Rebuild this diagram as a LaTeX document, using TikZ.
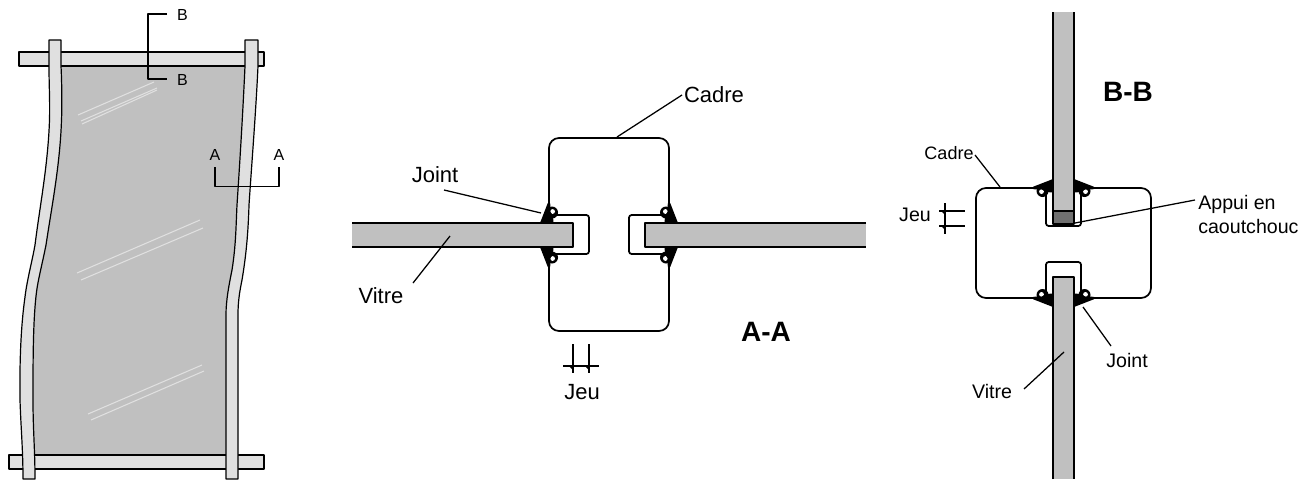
\documentclass[tikz,border=0pt]{standalone}
\usepackage{fontspec}
\setmainfont{Liberation Sans}
\definecolor{glass}{HTML}{C0C0C0}
\definecolor{strip}{HTML}{E0E0E0}
\definecolor{rubber}{HTML}{707070}
\newcommand\gasket[6]{\begin{scope}[shift={(#1,#2)},x={(#3*0.75pt,#4*-0.75pt)},y={(#5*0.75pt,#6*-0.75pt)}]
\fill[black] (3,-10.5) circle[radius=6];
\fill[white] (3.6,-11.5) circle[radius=2.4];
\fill[black] (-1.2,-20) -- (1.2,-20) -- (1.5,-11) -- (4,-7) -- (4.5,0) -- (-9,0) -- cycle;
\end{scope}}
\tikzset{
 lab/.style={font=\fontsize{16.5}{20}\selectfont,inner sep=0pt},
 labb/.style={font=\fontsize{14.7}{17.5}\selectfont,inner sep=0pt},
 labc/.style={font=\fontsize{13.5}{16}\selectfont,inner sep=0pt},
 small/.style={font=\fontsize{12}{14}\selectfont,inner sep=0pt},
 big/.style={font=\fontsize{21}{25}\selectfont\bfseries,inner sep=0pt},
 thin line/.style={line width=0.85pt,line join=round},
 sec/.style={line width=1.3pt,line join=round},
 pane/.style={draw=black,line width=0.9pt,line join=round},
 shine/.style={draw=strip,line width=0.8pt},
 lead/.style={line width=0.95pt}
}
\begin{document}
\begin{tikzpicture}[x=0.75pt,y=-0.75pt]
\useasboundingbox (0,0) rectangle (1314,479);
% ---- pane
\fill[glass] (55,60) -- (250,60) -- (250,66) .. controls (243,110) and (240,160) .. (237,205) .. controls (236,225) and (236,245) .. (232,270) .. controls (229,285) and (226,300) .. (226,315) -- (230,460) -- (30,460) -- (33,400) .. controls (33,360) and (33,320) .. (36.5,292) .. controls (38,280) and (42,265) .. (46,245) .. controls (52,205) and (60,165) .. (61.5,120) .. controls (62,110) and (62,85) .. (55,66) -- cycle;
\draw[pane,fill=strip] (19,52) rectangle (264,66);
\draw[pane,fill=strip] (9,455) rectangle (264,469);
\draw[pane,fill=strip] (49,40) -- (61,40) -- (61,66) .. controls (62,85) and (62,110) .. (61.5,120) .. controls (60,165) and (52,205) .. (46,245) .. controls (42,265) and (38,280) .. (36.5,292) .. controls (33,320) and (33,360) .. (33,400) .. controls (33,430) and (35,450) .. (35,479) -- (23,479) .. controls (23,450) and (21,430) .. (20,400) .. controls (19.5,360) and (21,325) .. (25,297) .. controls (27,280) and (32,262) .. (35,245) .. controls (40,205) and (48,165) .. (49.5,120) .. controls (50,100) and (49,85) .. (49,66) -- cycle;
\draw[pane,fill=strip] (245,40) -- (258,40) -- (258,66) .. controls (256,110) and (252,160) .. (249,205) .. controls (248,240) and (245,262) .. (242,280) .. controls (240,290) and (238,300) .. (238,315) -- (238,479) -- (226,479) -- (226,315) .. controls (226,300) and (229,285) .. (232,270) .. controls (236,245) and (236,225) .. (237,205) .. controls (240,160) and (243,110) .. (245,66) -- cycle;
% highlights
\draw[shine] (78,115) -- (154,82);
\draw[shine] (81,121) -- (157,88);
\draw[shine] (82,124) -- (157,90);
\draw[shine] (77,273) -- (200,220);
\draw[shine] (81,280) -- (203,228);
\draw[shine] (88,414) -- (202,365);
\draw[shine] (91,420) -- (204,371);
% section marks
\node[small] (b1) at (182.5,15) {B};
\node[small] (b2) at (182.5,80) {B};
\node[small] (a1) at (215,155) {A};
\node[small] (a2) at (279,155) {A};
\coordinate (b1e) at (167,14);
\coordinate (b2e) at (167,79);
\coordinate (a1e) at (215,167);
\coordinate (a2e) at (279,167);
\draw[thin line] (b1e) -- (148,14) -- (148,79) -- (b2e);
\draw[thin line] (a1e) -- (215,186.5) -- (279,186.5) -- (a2e);
% ---- section A-A
\begin{scope}[sec]
\draw[rounded corners=7.5pt] (549,206) -- (549,138) -- (669,138) -- (669,206);
\draw[rounded corners=7.5pt] (549,264) -- (549,331) -- (669,331) -- (669,264);
\draw[rounded corners=2pt] (555,215) -- (589,215) -- (589,254) -- (555,254);
\draw[rounded corners=2pt] (663,215) -- (629,215) -- (629,254) -- (663,254);
\end{scope}
\gasket{549}{223}{1}{0}{0}{1}
\gasket{669}{223}{-1}{0}{0}{1}
\gasket{549}{247}{1}{0}{0}{-1}
\gasket{669}{247}{-1}{0}{0}{-1}
\fill[glass] (352,223) rectangle (573,247);
\draw[sec] (352,223) -- (573,223) -- (573,247) -- (352,247);
\fill[glass] (645,223) rectangle (866,247);
\draw[sec] (866,223) -- (645,223) -- (645,247) -- (866,247);
% ---- section B-B
\begin{scope}[sec]
\draw[rounded corners=7.5pt] (1036,188) -- (976,188) -- (976,298) -- (1036,298);
\draw[rounded corners=7.5pt] (1091,188) -- (1151,188) -- (1151,298) -- (1091,298);
\draw[rounded corners=2pt] (1046,195) -- (1046,226) -- (1081,226) -- (1081,195);
\draw[rounded corners=2pt] (1046,291) -- (1046,262) -- (1081,262) -- (1081,291);
\end{scope}
\gasket{1053}{188}{0}{1}{1}{0}
\gasket{1074}{188}{0}{1}{-1}{0}
\gasket{1053}{298}{0}{-1}{1}{0}
\gasket{1074}{298}{0}{-1}{-1}{0}
\fill[rubber] (1053,211) rectangle (1074,224);
\fill[glass] (1053,12) rectangle (1074,211);
\draw[sec] (1053,12) -- (1053,224) -- (1074,224) -- (1074,12);
\draw[sec] (1053,211) -- (1074,211);
\fill[glass] (1053,277) rectangle (1074,479);
\draw[sec] (1053,479) -- (1053,277) -- (1074,277) -- (1074,479);
% ---- labels and leaders
\node[lab] (cadreA) at (714,95) {Cadre};
\coordinate (cadreAend) at (617,137);
\draw[lead] (682,95) -- (cadreAend);
\node[lab] (jointA) at (435,175) {Joint};
\coordinate (jointAs) at (444,190);
\coordinate (jointAe) at (541,213);
\draw[lead] (jointAs) -- (jointAe);
\node[lab] (vitreA) at (381,296) {Vitre};
\coordinate (vitreAs) at (413,283);
\coordinate (vitreAe) at (450,236);
\draw[lead] (vitreAs) -- (vitreAe);
\node[big] (aa) at (766,332) {A-A};
\node[lab] (jeuA) at (582,392) {Jeu};
\coordinate (jeuA1) at (573,344);
\coordinate (jeuA2) at (589,344);
\coordinate (jeuAl) at (563,366);
\coordinate (jeuAr) at (599,366);
\draw[lead] (jeuA1) -- ++(0,29);
\draw[lead] (jeuA2) -- ++(0,29);
\draw[lead] (jeuAl) -- (jeuAr);
\fill (569,366) -- (573,366) -- (573,370) -- cycle;
\fill (585,366) -- (589,366) -- (589,370) -- cycle;
\node[big] (bb) at (1128,92) {B-B};
\node[labc] (cadreB) at (949,153) {Cadre};
\coordinate (cadreBe) at (1000,187);
\draw[lead] (975,155) -- (cadreBe);
\node[labb] (jeuB) at (915,215) {Jeu};
\coordinate (jeuB1) at (939,211);
\coordinate (jeuB2) at (939,226);
\coordinate (jeuBv) at (945,203);
\draw[lead] (jeuBv) -- ++(0,31);
\draw[lead] (jeuB1) -- ++(26,0);
\draw[lead] (jeuB2) -- ++(26,0);
\fill (941,211) -- (945,211) -- (945,215) -- cycle;
\fill (941,226) -- (945,226) -- (945,230) -- cycle;
\node[labb,anchor=west,align=left] (appui) at (1198,214.5) {Appui en\\caoutchouc};
\coordinate (appuiE) at (1075,223);
\coordinate (appuiS) at (1195,200);
\draw[lead] (appuiS) -- (appuiE);
\node[labb] (jointB) at (1127,360) {Joint};
\coordinate (jointBs) at (1083,307);
\coordinate (jointBe) at (1111,346);
\draw[lead] (jointBs) -- (jointBe);
\node[labb] (vitreB) at (992,391) {Vitre};
\coordinate (vitreBs) at (1024,389);
\coordinate (vitreBe) at (1064,352);
\draw[lead] (vitreBs) -- (vitreBe);
\end{tikzpicture}
\end{document}
